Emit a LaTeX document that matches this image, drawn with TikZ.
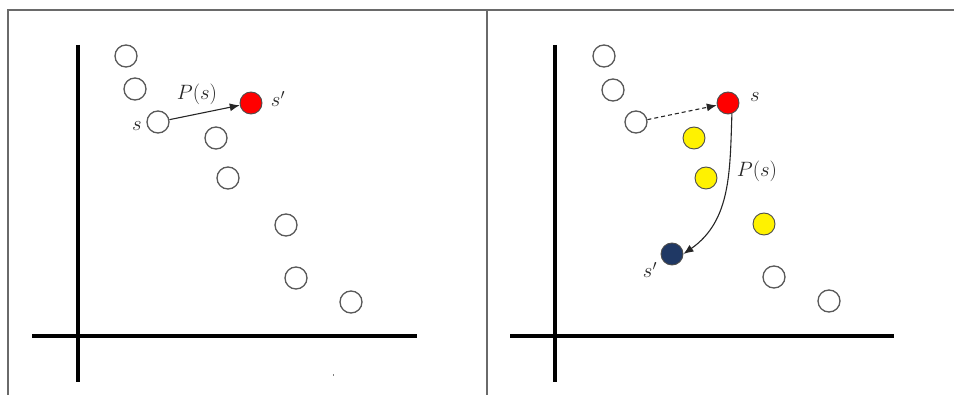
\documentclass[tikz,border=0pt]{standalone}
\usetikzlibrary{arrows.meta}
\definecolor{navy}{HTML}{1F3864}
\definecolor{framegray}{HTML}{6A6A6A}
\begin{document}
\begin{tikzpicture}[x=1pt,y=-1pt,
  pt/.style={circle,draw=black!65,line width=1.3pt,minimum size=22pt,inner sep=0pt,fill=white},
  redpt/.style={pt,fill=red,draw=black!70,line width=0.9pt},
  yelpt/.style={pt,fill=yellow,draw=black!70,line width=0.9pt},
  navypt/.style={pt,fill=navy,draw=black!70,line width=0.9pt},
  axis/.style={line width=3.6pt,black},
  frame/.style={line width=1.2pt,framegray},
  lbl/.style={inner sep=0pt,text=black!85,font=\huge},
  arr/.style={line width=1.1pt,black!85,-{Latex[length=10pt,width=8pt]}}]
\useasboundingbox (0,0) rectangle (954,395);
% frame
\draw[frame] (8,395) -- (8,10) -- (954,10);
\draw[frame] (487,10) -- (487,395);
% left axes
\coordinate (lyt) at (78,45); \coordinate (lyb) at (78,382);
\coordinate (lxl) at (32,336); \coordinate (lxr) at (417,336);
\draw[axis] (lyt) -- (lyb);
\draw[axis] (lxl) -- (lxr);
% right axes
\coordinate (ryt) at (555,45); \coordinate (ryb) at (555,382);
\coordinate (rxl) at (510,336); \coordinate (rxr) at (894,336);
\draw[axis] (ryt) -- (ryb);
\draw[axis] (rxl) -- (rxr);
% tiny mark
\fill[black!50] (332.5,374) rectangle (334,376.5);
% left points
\node[pt] (a1) at (126,56) {};
\node[pt] (a2) at (135,89) {};
\node[pt] (a3) at (158,122) {};
\node[pt] (a4) at (216,138) {};
\node[pt] (a5) at (228,178) {};
\node[pt] (a6) at (286,225) {};
\node[pt] (a7) at (296,278) {};
\node[pt] (a8) at (351,302) {};
\node[redpt] (ar) at (251,103) {};
\node[lbl] (als) at (137,126) {$s$};
\node[lbl] (alp) at (197,94) {$P(s)$};
\node[lbl] (als2) at (278,99) {$s'$};
\draw[arr] (a3) -- (ar);
% right points
\node[pt] (b1) at (604,56) {};
\node[pt] (b2) at (613,90) {};
\node[pt] (b3) at (636,122) {};
\node[yelpt] (y1) at (694,138) {};
\node[yelpt] (y2) at (706,178) {};
\node[yelpt] (y3) at (764,224) {};
\node[pt] (b7) at (774,277) {};
\node[pt] (b8) at (829,301) {};
\node[redpt] (br) at (728,103) {};
\node[navypt] (bn) at (672,254) {};
\node[lbl] (bls) at (755,97) {$s$};
\node[lbl] (blp) at (757,171) {$P(s)$};
\node[lbl] (bls2) at (650,270) {$s'$};
\draw[arr,dashed,dash pattern=on 4pt off 3pt] (b3) -- (br);
\draw[arr] (br.-70) to[out=-92,in=35] (bn.east);
\end{tikzpicture}
\end{document}
